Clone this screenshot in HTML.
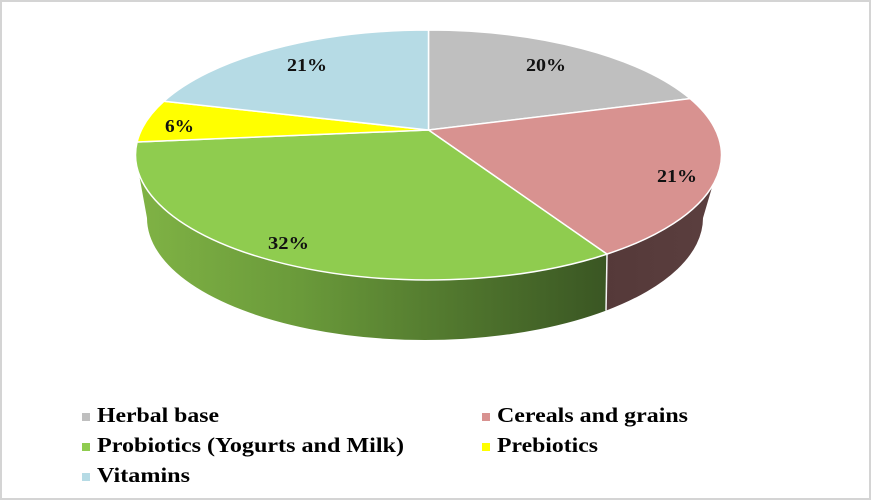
<!DOCTYPE html>
<html>
<head>
<meta charset="utf-8">
<style>
  html,body{margin:0;padding:0;background:#fff;}
  body{width:871px;height:500px;overflow:hidden;}
  svg{display:block;}
  .lbl{font-family:"Liberation Serif",serif;font-weight:bold;font-size:18px;fill:#111;}
  .leg{font-family:"Liberation Serif",serif;font-weight:bold;font-size:21px;fill:#000;}
</style>
</head>
<body>
<svg width="871" height="500" viewBox="0 0 871 500" xmlns="http://www.w3.org/2000/svg">
  <defs>
    <linearGradient id="gside" x1="135" y1="0" x2="607" y2="0" gradientUnits="userSpaceOnUse">
      <stop offset="0" stop-color="#80b345"/>
      <stop offset="0.35" stop-color="#6a9a3a"/>
      <stop offset="0.65" stop-color="#537a2f"/>
      <stop offset="1" stop-color="#3a5623"/>
    </linearGradient>
    <linearGradient id="bside" x1="606" y1="0" x2="722" y2="0" gradientUnits="userSpaceOnUse">
      <stop offset="0" stop-color="#553939"/>
      <stop offset="1" stop-color="#5b3f3f"/>
    </linearGradient>
  </defs>

  <!-- frame -->
  <rect x="1" y="1" width="869" height="498" fill="#fff" stroke="#d4d4d4" stroke-width="2"/>

  <!-- side walls -->
  <path d="M135.5 155 L147 218 A278 122 0 0 0 606 310.6 L607 254.1 A293 125 0 0 1 135.5 155 Z" fill="url(#gside)"/>
  <path d="M607 254.1 L606 310.6 A278 122 0 0 0 703 218 L721.5 155 A293 125 0 0 1 607 254.1 Z" fill="url(#bside)"/>
  <line x1="607" y1="254.1" x2="606" y2="310.6" stroke="#f4f4f4" stroke-width="1.5"/>

  <!-- top face slices -->
  <g stroke="#ffffff" stroke-width="1.5" stroke-linejoin="round">
    <!-- Herbal base -->
    <path d="M428.5 130 L428.5 30 A293 125 0 0 1 690 98.6 Z" fill="#bfbfbf"/>
    <!-- Cereals and grains -->
    <path d="M428.5 130 L690 98.6 A293 125 0 0 1 607 254.1 Z" fill="#d89290"/>
    <!-- Probiotics -->
    <path d="M428.5 130 L607 254.1 A293 125 0 0 1 137.1 142 Z" fill="#8fcc4f"/>
    <!-- Prebiotics -->
    <path d="M428.5 130 L137.1 142 A293 125 0 0 1 164 101.2 Z" fill="#ffff00"/>
    <!-- Vitamins -->
    <path d="M428.5 130 L164 101.2 A293 125 0 0 1 428.5 30 Z" fill="#b6dbe5"/>
  </g>

  <!-- data labels -->
  <text class="lbl" x="526" y="71" textLength="40" lengthAdjust="spacingAndGlyphs">20%</text>
  <text class="lbl" x="657" y="182" textLength="40" lengthAdjust="spacingAndGlyphs">21%</text>
  <text class="lbl" x="268" y="249" textLength="41" lengthAdjust="spacingAndGlyphs">32%</text>
  <text class="lbl" x="165" y="132" textLength="29" lengthAdjust="spacingAndGlyphs">6%</text>
  <text class="lbl" x="287" y="71" textLength="40" lengthAdjust="spacingAndGlyphs">21%</text>

  <!-- legend -->
  <rect x="82" y="413" width="8" height="8" fill="#bfbfbf"/>
  <text class="leg" x="97" y="422" textLength="122" lengthAdjust="spacingAndGlyphs">Herbal base</text>

  <rect x="482" y="413" width="8" height="8" fill="#d89290"/>
  <text class="leg" x="497" y="422" textLength="191" lengthAdjust="spacingAndGlyphs">Cereals and grains</text>

  <rect x="82" y="443" width="8" height="8" fill="#8fcc4f"/>
  <text class="leg" x="97" y="452" textLength="307" lengthAdjust="spacingAndGlyphs">Probiotics (Yogurts and Milk)</text>

  <rect x="482" y="443" width="8" height="8" fill="#ffff00"/>
  <text class="leg" x="497" y="452" textLength="101" lengthAdjust="spacingAndGlyphs">Prebiotics</text>

  <rect x="82" y="473" width="8" height="8" fill="#b6dbe5"/>
  <text class="leg" x="97" y="482" textLength="93" lengthAdjust="spacingAndGlyphs">Vitamins</text>
</svg>
</body>
</html>
